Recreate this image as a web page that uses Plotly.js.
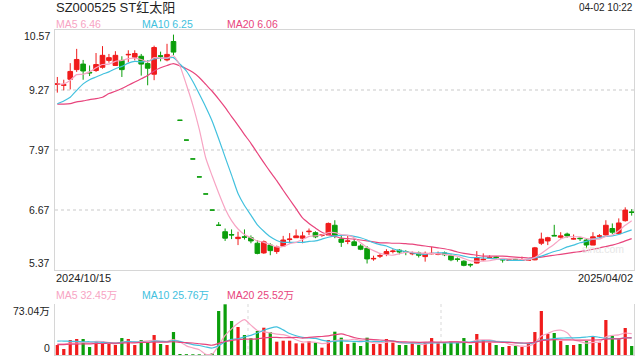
<!DOCTYPE html>
<html><head><meta charset="utf-8">
<script src="https://cdn.plot.ly/plotly-3.0.1.min.js"></script>
<style>html,body{margin:0;padding:0;background:#fff;overflow:hidden;} #chart{width:640px;height:360px;}</style>
</head><body><div id="chart"></div>
<script>
const titleText = 'SZ000525 ST红太阳';
const timeText = '04-02 10:22';
const dateLabels = ['2024/10/15', '2025/04/02'];
const priceTicks = [10.57, 9.27, 7.97, 6.67, 5.37];
const volumeTicks = [73.04, 0];
const volumeTickText = ['73.04万', '0'];
const priceLegend = ['MA5 6.46', 'MA10 6.25', 'MA20 6.06'];
const volumeLegend = ['MA5 32.45万', 'MA10 25.76万', 'MA20 25.52万'];
const watermark = 'sina.com';

const opens = [9.39,9.37,9.50,9.71,9.83,9.65,9.69,9.76,9.91,9.80, 9.91,10.03,9.98,10.00,9.84,9.61,10.01,9.92,10.32,8.61, 8.18,7.77,7.38,7.01,6.66,6.33,6.19,6.13,6.04,6.08, 6.06,5.94,5.73,5.90,5.76,5.88,6.02,6.06,6.05,6.19, 6.17,6.11,6.12,6.33,6.03,5.98,5.97,5.88,5.83,5.60, 5.66,5.70,5.76,5.79,5.76,5.71,5.73,5.65,5.71,5.70, 5.73,5.67,5.60,5.55,5.48,5.51,5.58,5.62,5.64,5.59, 5.57,5.59,5.57,5.57,5.58,5.94,5.99,6.11,6.07,6.14, 6.03,6.05,6.01,5.90,6.09,6.12,6.26,6.15,6.43,6.62];
const highs = [9.55,9.49,9.85,10.16,9.92,9.80,10.07,10.22,10.05,10.11, 10.00,10.13,10.13,10.05,9.91,10.23,10.10,10.27,10.47,8.61, 8.18,7.77,7.38,7.01,6.66,6.40,6.26,6.24,6.19,6.24, 6.11,6.01,6.00,5.94,5.89,6.10,6.16,6.24,6.19,6.26, 6.20,6.14,6.39,6.44,6.11,6.11,6.04,5.92,5.88,5.67, 5.72,5.81,5.81,5.81,5.79,5.76,5.76,5.76,5.86,5.76, 5.76,5.70,5.63,5.57,5.50,5.77,5.72,5.68,5.66,5.61, 5.60,5.60,5.65,5.60,5.86,6.17,6.08,6.34,6.18,6.17, 6.13,6.07,6.05,6.18,6.14,6.44,6.37,6.48,6.72,6.68];
const lows = [9.21,9.26,9.28,9.66,9.49,9.57,9.66,9.73,9.86,9.80, 9.55,9.87,9.91,9.58,9.37,9.48,9.89,9.89,10.02,8.61, 8.18,7.77,7.38,7.01,6.66,6.33,5.99,6.03,5.90,6.02, 5.94,5.70,5.71,5.68,5.71,5.86,5.94,6.06,5.94,6.12, 6.05,6.08,6.12,6.05,5.86,5.92,5.88,5.79,5.50,5.56, 5.62,5.66,5.72,5.70,5.68,5.68,5.63,5.54,5.70,5.68, 5.66,5.55,5.54,5.44,5.42,5.50,5.56,5.60,5.60,5.52, 5.56,5.56,5.56,5.56,5.57,5.90,5.90,6.10,6.04,6.06, 6.02,5.99,5.83,5.90,6.05,6.11,6.14,6.15,6.41,6.54];
const closes = [9.40,9.38,9.67,9.93,9.68,9.64,9.82,10.02,9.97,10.02, 9.71,10.04,10.06,9.83,9.74,10.19,10.00,10.04,10.09,8.61, 8.18,7.77,7.38,7.01,6.66,6.33,6.05,6.12,6.07,6.07, 5.99,5.72,5.97,5.78,5.86,6.01,6.03,6.10,6.10,6.20, 6.08,6.12,6.37,6.10,5.96,5.99,5.89,5.81,5.60,5.61, 5.67,5.76,5.77,5.75,5.75,5.72,5.68,5.72,5.72,5.71, 5.69,5.58,5.59,5.46,5.47,5.63,5.59,5.63,5.63,5.58, 5.58,5.58,5.58,5.58,5.84,6.03,6.06,6.10,6.10,6.10, 6.04,6.04,5.90,6.08,6.10,6.33,6.18,6.38,6.66,6.61];
const ma5 = [9.40,9.40,9.48,9.60,9.61,9.66,9.75,9.82,9.83,9.89, 9.91,9.95,9.96,9.93,9.88,9.97,9.96,9.96,10.01,9.79, 9.38,8.94,8.41,7.79,7.40,7.03,6.69,6.43,6.25,6.13, 6.06,5.99,5.96,5.91,5.86,5.87,5.93,5.96,6.02,6.09, 6.10,6.12,6.17,6.17,6.13,6.11,6.06,5.95,5.85,5.78, 5.72,5.69,5.68,5.71,5.74,5.75,5.73,5.72,5.72,5.71, 5.70,5.68,5.66,5.61,5.56,5.55,5.55,5.56,5.59,5.61, 5.60,5.60,5.59,5.58,5.63,5.72,5.82,5.92,6.03,6.08, 6.08,6.08,6.04,6.03,6.03,6.09,6.12,6.21,6.33,6.43];
const ma10 = [8.97,9.03,9.11,9.26,9.40,9.49,9.55,9.61,9.66,9.73, 9.78,9.85,9.89,9.88,9.89,9.94,9.96,9.96,9.97,9.83, 9.68,9.45,9.18,8.90,8.59,8.21,7.81,7.42,7.02,6.76, 6.55,6.34,6.20,6.08,6.00,5.96,5.96,5.96,5.96,5.98, 5.99,6.03,6.07,6.10,6.11,6.11,6.09,6.06,6.01,5.95, 5.91,5.88,5.82,5.78,5.76,5.73,5.71,5.70,5.72,5.73, 5.73,5.71,5.69,5.66,5.63,5.63,5.62,5.61,5.60,5.59, 5.57,5.57,5.57,5.59,5.62,5.66,5.71,5.76,5.80,5.86, 5.90,5.95,5.98,6.03,6.06,6.09,6.10,6.13,6.18,6.23];
const ma20 = [8.96,8.96,8.97,9.01,9.03,9.06,9.08,9.11,9.19,9.24, 9.30,9.37,9.44,9.51,9.58,9.68,9.75,9.80,9.84,9.79, 9.73,9.65,9.54,9.39,9.24,9.07,8.89,8.69,8.50,8.30, 8.11,7.90,7.69,7.49,7.30,7.09,6.89,6.69,6.49,6.37, 6.27,6.18,6.13,6.09,6.05,6.04,6.03,6.01,5.99,5.97, 5.95,5.95,5.94,5.94,5.93,5.92,5.90,5.88,5.86,5.84, 5.82,5.79,5.75,5.72,5.70,5.68,5.66,5.66,5.66,5.66, 5.65,5.64,5.63,5.62,5.63,5.64,5.66,5.68,5.70,5.72, 5.74,5.76,5.78,5.81,5.84,5.87,5.90,5.94,5.99,6.04];
const volumes = [14.3,8.6,21.5,22.9,22.9,11.5,18.1,20.0,15.8,14.3, 24.3,22.9,14.3,21.5,18.1,28.6,15.8,14.3,32.9,1.4, 1.2,1.0,1.0,1.0,2.4,63.0,72.6,48.7,40.1,28.6, 23.9,34.4,39.1,32.9,19.1,20.5,20.5,16.7,16.7,20.0, 17.7,10.5,21.5,33.4,24.8,15.8,17.7,12.9,24.8,15.8, 15.8,22.9,17.7,14.3,14.3,16.7,14.3,17.7,24.3,16.7, 16.7,20.0,17.7,24.3,14.3,30.1,21.5,17.7,14.3,11.5, 12.9,12.9,11.5,15.8,32.9,63.0,30.1,31.5,20.0,14.3, 14.3,15.8,20.0,25.8,17.7,50.1,27.2,23.9,38.7,12.9];
const volMa5 = [16,16,17,17,18.0,17.5,19.4,19.1,17.7,15.9, 18.5,19.5,18.3,19.5,20.2,21.1,19.7,19.7,21.9,18.6, 13.1,10.2,7.5,1.1,1.3,13.7,28.0,37.5,45.4,50.6, 42.8,35.1,33.2,31.8,29.9,29.2,26.4,21.9,18.7,18.9, 18.3,16.3,17.3,20.6,21.6,21.2,22.6,20.9,19.2,17.4, 17.4,18.4,19.4,17.3,17.0,17.2,15.5,15.5,17.5,17.9, 17.9,19.1,19.1,19.1,18.6,21.3,21.6,21.6,19.6,19.0, 15.6,13.9,12.6,12.9,17.2,27.2,30.7,34.7,35.5,31.8, 22.0,19.2,16.9,18.0,18.7,25.9,28.2,28.9,31.5,30.6];
const volMa10 = [20,20,19.5,19.5,19,19,18.5,18,17.5,17.0, 18.0,19.4,18.7,18.6,18.1,19.8,19.6,19.0,20.7,19.4, 17.1,14.9,13.6,11.5,10.0,13.4,19.1,22.5,23.2,26.0, 28.2,31.6,35.4,38.6,40.2,36.0,30.8,27.6,25.2,24.4, 23.8,21.4,19.6,19.7,20.2,19.8,19.5,19.1,19.9,19.5, 19.3,20.5,20.2,18.3,17.2,17.3,17.0,17.4,17.4,17.5, 17.6,17.3,17.3,18.3,18.3,19.6,20.3,20.3,19.3,18.8, 18.4,17.7,17.1,16.3,18.1,21.4,22.3,23.6,24.2,24.5, 24.6,24.9,25.8,26.8,25.3,24.0,23.7,22.9,24.8,24.6];
const volMa20 = [15,15,15.5,15.5,16,16,16.5,16.5,17,17, 17,17.5,17.5,18,18,18.5,18.5,18.5,19,18.2, 17.6,17.2,16.1,15.1,14.0,16.6,19.3,20.8,22.0,22.7, 22.7,23.2,24.5,25.1,25.1,24.7,24.9,25.1,24.2,25.2, 26.0,26.5,27.5,29.1,30.2,27.9,25.1,23.3,22.6,21.9, 21.5,21.0,19.9,19.0,18.7,18.5,18.2,18.3,18.7,18.5, 18.4,18.9,18.7,18.3,17.7,18.5,18.6,18.9,18.4,18.1, 18.0,17.5,17.2,17.3,18.2,20.5,21.3,22.0,21.8,21.7, 21.5,21.3,21.4,21.5,21.7,22.7,23.0,23.3,24.5,24.6];

// ---- styling ----
const RED = '#f01c1c', GREEN = '#0b9e0b';
const C_MA5 = '#f7a4c3', C_MA10 = '#42c1de', C_MA20 = '#e8457d';
const AXIS_C = '#d6d6d6', GRID_C = '#e4e4e4', TEXT_C = '#222';
const FONT = '"Liberation Sans", Arial, "Noto Sans CJK SC", sans-serif';

const idx = closes.map((_, i) => i);
const isUp = closes.map((c, i) => c > opens[i] || (c === opens[i] && i > 0 && c >= closes[i - 1]));

function pick(arr, want) { return arr.filter((_, i) => isUp[i] === want); }

function candle(want, color) {
  return {
    type: 'candlestick', xaxis: 'x', yaxis: 'y',
    x: pick(idx, want), open: pick(opens, want), high: pick(highs, want),
    low: pick(lows, want), close: pick(closes, want),
    increasing: {line: {color: color, width: 1}, fillcolor: color},
    decreasing: {line: {color: color, width: 1}, fillcolor: color},
    whiskerwidth: 0, hoverinfo: 'skip', showlegend: false
  };
}
function line(y, color, xa, ya) {
  return {type: 'scatter', mode: 'lines', x: idx, y: y, xaxis: xa, yaxis: ya,
    line: {color: color, width: 1.2, shape: 'spline', smoothing: 0.6}, hoverinfo: 'skip', showlegend: false};
}

const traces = [
  line(ma20, C_MA20, 'x', 'y'), line(ma10, C_MA10, 'x', 'y'), line(ma5, C_MA5, 'x', 'y'),
  candle(true, RED), candle(false, GREEN),
  {type: 'bar', x: idx, y: volumes, xaxis: 'x2', yaxis: 'y2', width: 0.5,
   marker: {color: isUp.map(u => u ? RED : GREEN), line: {width: 0}}, hoverinfo: 'skip', showlegend: false},
  line(volMa5, C_MA5, 'x2', 'y2'), line(volMa10, C_MA10, 'x2', 'y2'), line(volMa20, C_MA20, 'x2', 'y2')
];

// layout helpers (pixel -> paper)
const PL = 55, PR = 634, PT = 30, PB = 355;
const px = x => (x - PL) / (PR - PL);
const py = y => (PB - y) / (PB - PT);
const priceDom = [py(269.5), 1];
const volDom = [0, py(304)];
const xr = [-0.36, idx.length - 1 + 0.36];

function txt(text, x, y, anchor, size, color) {
  return {text: text, xref: 'paper', yref: 'paper', x: px(x), y: py(y), xanchor: anchor, yanchor: 'middle',
    showarrow: false, font: {family: FONT, size: size, color: color}, borderpad: 0};
}

const ann = [
  txt(titleText, 55, 8, 'left', 13, TEXT_C),
  txt(timeText, 634, 7.5, 'right', 10, TEXT_C),
  txt(priceLegend[0], 55, 24, 'left', 10.5, C_MA5),
  txt(priceLegend[1], 140.7, 24, 'left', 10.5, C_MA10),
  txt(priceLegend[2], 225.7, 24, 'left', 10.5, C_MA20),
  txt(dateLabels[0], 55, 278, 'left', 11, TEXT_C),
  txt(dateLabels[1], 634, 278, 'right', 11, TEXT_C),
  txt(volumeLegend[0], 55, 294.5, 'left', 10.5, C_MA5),
  txt(volumeLegend[1], 140.7, 294.5, 'left', 10.5, C_MA10),
  txt(volumeLegend[2], 225.7, 294.5, 'left', 10.5, C_MA20),
  txt(watermark, 603, 249, 'center', 10.5, '#e6e6e6')
];
priceTicks.forEach((v, i) => {
  const shift = i === 0 ? -6.2 : (i === priceTicks.length - 1 ? 6.5 : 0);
  ann.push({text: v.toFixed(2), xref: 'paper', yref: 'y', x: px(51), y: v, yshift: shift,
    xanchor: 'right', yanchor: 'middle', showarrow: false, borderpad: 0,
    font: {family: FONT, size: 10.5, color: TEXT_C}});
});
volumeTicks.forEach((v, i) => {
  ann.push({text: volumeTickText[i], xref: 'paper', yref: 'y2', x: px(51), y: v, yshift: i === 0 ? -7 : 7,
    xanchor: 'right', yanchor: 'middle', showarrow: false, borderpad: 0,
    font: {family: FONT, size: 10.5, color: TEXT_C}});
});

const layout = {
  width: 640, height: 360, margin: {l: PL, r: 640 - PR, t: PT, b: 360 - PB, pad: 0},
  paper_bgcolor: '#fff', plot_bgcolor: '#fff', showlegend: false, boxgap: 0.28, boxgroupgap: 0, boxmode: 'overlay',
  xaxis: {domain: [0, 1], anchor: 'y', range: xr, showticklabels: false, showgrid: false, zeroline: false,
    showline: true, mirror: true, linecolor: AXIS_C, linewidth: 1, ticks: '', rangeslider: {visible: false}, fixedrange: true},
  yaxis: {domain: priceDom, anchor: 'x', range: [priceTicks[priceTicks.length - 1], priceTicks[0]],
    tickvals: priceTicks.slice(1, -1), showticklabels: false, showgrid: true, gridcolor: GRID_C, gridwidth: 2, griddash: 'dot',
    zeroline: false, showline: true, mirror: true, linecolor: AXIS_C, linewidth: 1, ticks: '', fixedrange: true},
  xaxis2: {domain: [0, 1], anchor: 'y2', range: xr, showticklabels: false, showgrid: false, zeroline: false,
    showline: true, mirror: false, linecolor: AXIS_C, linewidth: 1, ticks: '', fixedrange: true},
  yaxis2: {domain: volDom, anchor: 'x2', range: [0, volumeTicks[0]], tickvals: [volumeTicks[0]], showticklabels: false,
    showgrid: true, gridcolor: GRID_C, gridwidth: 2, griddash: 'dot', zeroline: false,
    showline: true, mirror: true, linecolor: AXIS_C, linewidth: 1, ticks: '', fixedrange: true},
  shapes: [1 / 3, 2 / 3].map(f => ({type: 'line', xref: 'paper', yref: 'paper', x0: f, x1: f, y0: volDom[0], y1: volDom[1],
    line: {color: '#d9d9d9', width: 1, dash: 'dot'}, layer: 'below'})),
  annotations: ann
};

Plotly.newPlot('chart', traces, layout, {staticPlot: true, displayModeBar: false});
</script>
</body></html>
